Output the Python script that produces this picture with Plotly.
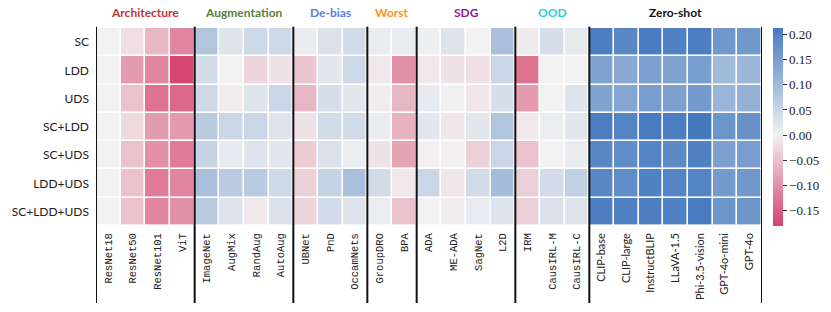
import plotly.graph_objects as go

rows = ["SC", "LDD", "UDS", "SC+LDD", "SC+UDS", "LDD+UDS", "SC+LDD+UDS"]

mono_cols = ["ResNet18", "ResNet50", "ResNet101", "ViT",
             "ImageNet", "AugMix", "RandAug", "AutoAug",
             "UBNet", "PnD", "OccamNets",
             "GroupDRO", "BPA",
             "ADA", "ME-ADA", "SagNet", "L2D",
             "IRM", "CausIRL-M", "CausIRL-C"]
sans_cols = ["CLIP-base", "CLIP-large", "InstructBLIP", "LLaVA-1.5",
             "Phi-3.5-vision", "GPT-4o-mini", "GPT-4o"]
columns = mono_cols + sans_cols

groups = ["Architecture", "Augmentation", "De-bias", "Worst", "SDG", "OOD", "Zero-shot"]
group_sizes = [4, 4, 3, 2, 4, 3, 7]
group_colors = ["#bf333b", "#5a7f3a", "#5a7de6", "#ff9020", "#8e1a92", "#1fd0d8", "#111111"]

# values per column (rows: SC, LDD, UDS, SC+LDD, SC+UDS, LDD+UDS, SC+LDD+UDS)
ResNet18 = [0.0, 0.0, 0.0, 0.0, 0.0, 0.0, 0.0]
ResNet50 = [-0.02, -0.09, -0.05, -0.025, -0.05, -0.05, -0.05]
ResNet101 = [-0.06, -0.11, -0.13, -0.09, -0.10, -0.12, -0.11]
ViT = [-0.11, -0.175, -0.14, -0.09, -0.12, -0.11, -0.10]
ImageNet = [0.08, 0.04, 0.045, 0.07, 0.055, 0.09, 0.07]
AugMix = [0.025, 0.0, -0.005, 0.05, 0.015, 0.07, 0.025]
RandAug = [0.045, -0.03, 0.025, 0.05, 0.025, 0.07, -0.01]
AutoAug = [0.045, -0.015, 0.05, 0.025, 0.02, 0.045, 0.03]
UBNet = [0.01, -0.045, -0.06, -0.015, -0.04, -0.035, -0.03]
PnD = [0.03, 0.02, 0.035, 0.04, 0.03, 0.055, 0.04]
OccamNets = [0.04, 0.045, 0.02, 0.04, 0.008, 0.09, 0.025]
GroupDRO = [0.01, -0.01, -0.005, 0.01, -0.015, 0.04, 0.008]
BPA = [0.01, -0.10, -0.06, -0.065, -0.08, -0.01, -0.05]
ADA = [0.005, -0.01, 0.015, 0.02, -0.003, 0.05, 0.0]
ME_ADA = [0.025, -0.015, 0.003, -0.012, -0.003, -0.012, -0.005]
SagNet = [0.0, -0.02, -0.012, 0.02, -0.035, 0.04, 0.012]
L2D = [0.09, 0.05, 0.035, 0.08, 0.05, 0.095, 0.025]
IRM = [-0.008, -0.13, -0.09, -0.01, -0.05, -0.035, -0.035]
CausIRL_M = [0.035, 0.0, 0.0, 0.008, 0.0, 0.04, 0.03]
CausIRL_C = [0.015, 0.0, 0.025, 0.02, 0.01, 0.06, 0.025]
CLIP_base = [0.205, 0.14, 0.14, 0.205, 0.19, 0.19, 0.205]
CLIP_large = [0.19, 0.13, 0.135, 0.195, 0.18, 0.18, 0.20]
InstructBLIP = [0.21, 0.145, 0.15, 0.21, 0.195, 0.20, 0.205]
LLaVA_15 = [0.20, 0.14, 0.145, 0.205, 0.185, 0.195, 0.20]
Phi_35_vision = [0.205, 0.15, 0.155, 0.2125, 0.20, 0.195, 0.21]
GPT_4o_mini = [0.16, 0.10, 0.11, 0.165, 0.145, 0.155, 0.165]
GPT_4o = [0.16, 0.105, 0.115, 0.17, 0.15, 0.16, 0.165]

col_values = [ResNet18, ResNet50, ResNet101, ViT, ImageNet, AugMix, RandAug, AutoAug,
              UBNet, PnD, OccamNets, GroupDRO, BPA, ADA, ME_ADA, SagNet, L2D,
              IRM, CausIRL_M, CausIRL_C, CLIP_base, CLIP_large, InstructBLIP,
              LLaVA_15, Phi_35_vision, GPT_4o_mini, GPT_4o]

z = [[col_values[j][i] for j in range(len(columns))] for i in range(len(rows))]

zmin, zmax = -0.18, 0.2125
mid = (0 - zmin) / (zmax - zmin)
colorscale = [[0.0, "#d5416c"], [mid, "#f2f2f2"], [1.0, "#467abf"]]

W, H = 831, 312
L, R, T, B = 96, 69, 28, 86

xi = list(range(len(columns)))
yi = list(range(len(rows)))

ticktext = ['<span style="font-family:Liberation Mono, DejaVu Sans Mono, monospace">%s</span>' % c
            for c in mono_cols] + ['<span style="font-size:11px">%s</span>' % c for c in sans_cols]

fig = go.Figure(go.Heatmap(
    z=z, x=xi, y=yi, zmin=zmin, zmax=zmax, colorscale=colorscale,
    xgap=1.6, ygap=1.6,
    colorbar=dict(
        thickness=10, len=1, lenmode="fraction", x=1 + 11 / (W - L - R), xanchor="left",
        xpad=0, ypad=0, y=0.5, yanchor="middle", outlinewidth=0,
        tickvals=[-0.15, -0.10, -0.05, 0.0, 0.05, 0.10, 0.15, 0.20],
        tickformat=".2f", ticks="outside", ticklen=4, tickcolor="#333",
        tickfont=dict(family="Liberation Serif, DejaVu Serif, serif", size=13, color="#222"),
    ),
))

fig.update_xaxes(
    tickmode="array", tickvals=xi, ticktext=ticktext, tickangle=-90,
    tickfont=dict(family="Lato, Open Sans, sans-serif", size=10.5, color="#222"),
    showgrid=False, zeroline=False, ticks="", range=[-0.5, len(columns) - 0.5],
    automargin=False, ticklabelstandoff=4,
)
fig.update_yaxes(
    tickmode="array", tickvals=yi, ticktext=rows, autorange="reversed",
    tickfont=dict(family="Lato, Open Sans, sans-serif", size=12, color="#222"),
    showgrid=False, zeroline=False, ticks="", ticklen=0,
    automargin=False, ticklabelstandoff=6,
)

shapes = []
annotations = []
start = 0
bounds = [0]
for g, n, c in zip(groups, group_sizes, group_colors):
    annotations.append(dict(
        x=start + (n - 1) / 2, y=1, xref="x", yref="paper", yanchor="bottom",
        yshift=6, text="<b>%s</b>" % g, showarrow=False,
        font=dict(family="Lato, Open Sans, sans-serif", size=12, color=c),
    ))
    start += n
    bounds.append(start)

for b in bounds:
    shapes.append(dict(type="line", xref="x", yref="paper", x0=b - 0.5, x1=b - 0.5,
                       y0=(226 - 303) / (H - T - B), y1=1.006,
                       line=dict(color="#111", width=2)))

fig.update_layout(
    width=W, height=H, margin=dict(l=L, r=R, t=T, b=B, autoexpand=False),
    plot_bgcolor="white", paper_bgcolor="white",
    shapes=shapes, annotations=annotations,
)

fig.write_html("out.html", config={"displayModeBar": False},
               post_script="document.body.style.margin='0px';document.body.style.padding='0px';")
